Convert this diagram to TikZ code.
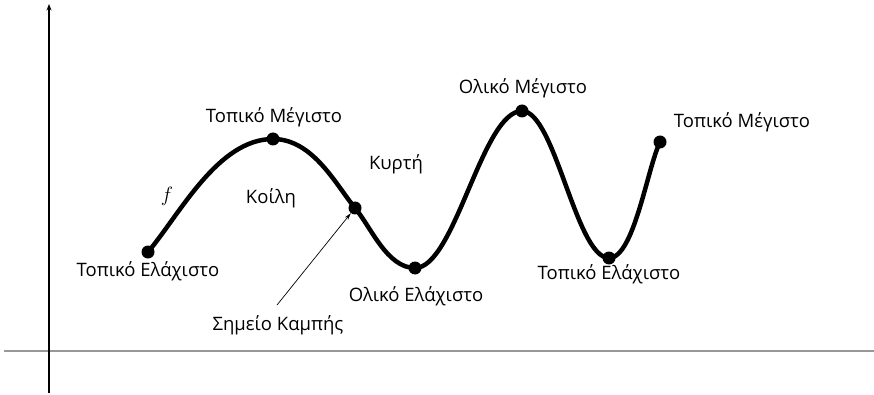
\documentclass[tikz,border=0pt]{standalone}
\usepackage{fontspec}
\setmainfont{Open Sans}
\usetikzlibrary{arrows.meta}
\begin{document}
\begin{tikzpicture}[x=1pt,y=-1pt,
  lbl/.style={font=\fontsize{18.5}{20}\selectfont, inner sep=0pt},
  dot/.style={circle, fill=black, inner sep=0pt, minimum size=13pt},
  curve/.style={line width=4.5pt, black},
  axis/.style={line width=1.1pt, black}]
\useasboundingbox (0,0) rectangle (874,395);
% axes
\coordinate (hx0) at (4,351);
\coordinate (hx1) at (874,351);
\coordinate (vy0) at (49,393);
\coordinate (vy1) at (49,4);
\draw[line width=1.6pt, gray!85!black!70] (hx0) -- (hx1);
\draw[axis, -{Stealth[length=6.5pt,width=5pt]}] (vy0) -- (vy1);
% key points
\coordinate (p1) at (148,252);
\coordinate (p2) at (273,139);
\coordinate (p3) at (355,208);
\coordinate (p4) at (415,268);
\coordinate (p5) at (522,111);
\coordinate (p6) at (609,258);
\coordinate (p7) at (660,142);
\draw[curve] (p1) .. controls (180,214) and (218,139) .. (p2)
  .. controls (313,139) and (336,185) .. (p3)
  .. controls (371,227) and (387,268) .. (p4)
  .. controls (455,268) and (482,111) .. (p5)
  .. controls (555,111) and (576,258) .. (p6)
  .. controls (634,258) and (647,169) .. (p7);
\foreach \p in {p1,p2,p3,p4,p5,p6,p7} \node[dot] (d\p) at (\p) {};
% labels
\node[lbl] (l1) at (148,271) {Τοπικό Ελάχιστο};
\node[lbl] (l2) at (274,117) {Τοπικό Μέγιστο};
\node[lbl] (l3) at (396,164) {Κυρτή};
\node[lbl] (l4) at (271,198) {Κοίλη};
\node[font=\fontsize{20}{22}\selectfont, inner sep=0pt] (lf) at (167,196) {$f$};
\node[lbl] (l5) at (416,296) {Ολικό Ελάχιστο};
\node[lbl] (l6) at (278,325) {Σημείο Καμπής};
\node[lbl] (l7) at (523,88) {Ολικό Μέγιστο};
\node[lbl] (l8) at (609,274) {Τοπικό Ελάχιστο};
\node[lbl] (l9) at (742,122) {Τοπικό Μέγιστο};
\coordinate (as) at (277,305);
\draw[line width=0.7pt, -{Stealth[length=7pt,width=4pt]}] (as) -- (dp3);
\end{tikzpicture}
\end{document}
